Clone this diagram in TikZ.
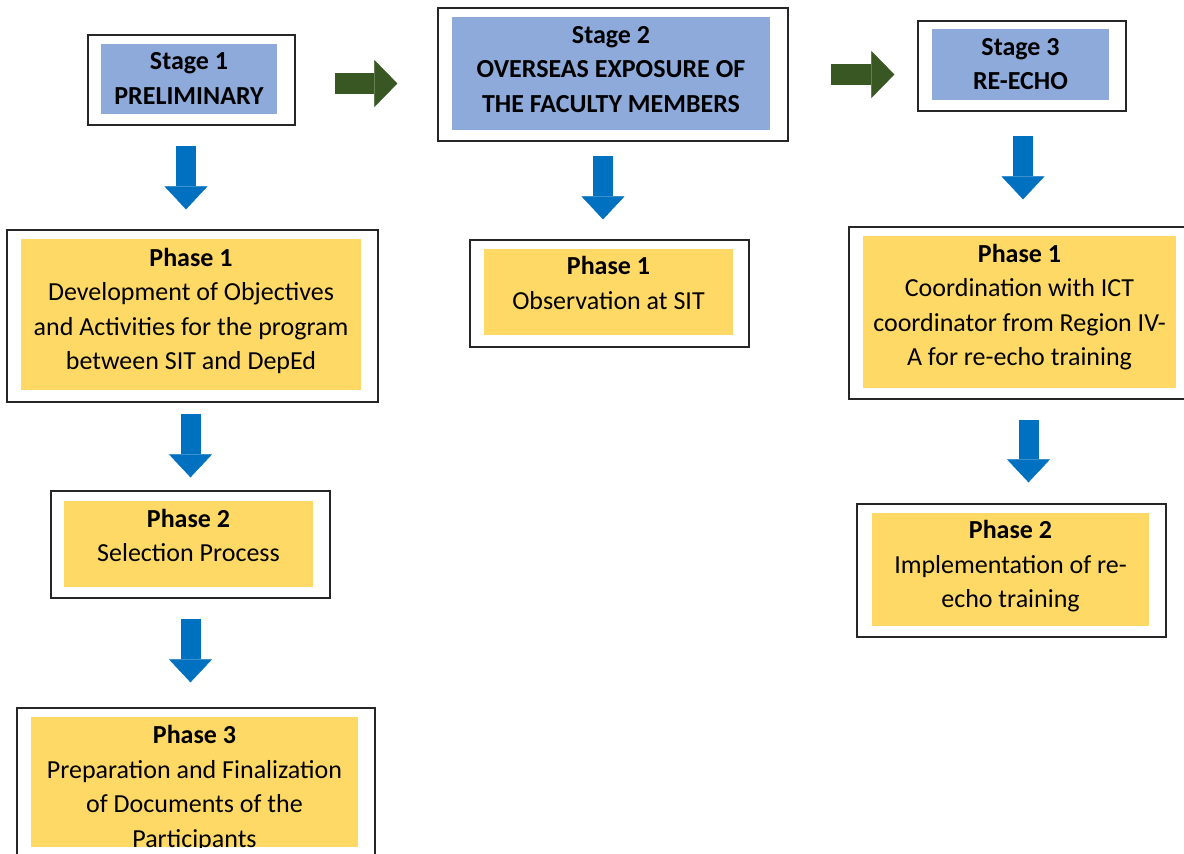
\documentclass[tikz,border=0pt]{standalone}
\usepackage{fontspec}
\setmainfont{Carlito}
\usetikzlibrary{arrows.meta}
\definecolor{stageblue}{HTML}{8EAADB}
\definecolor{phaseyel}{HTML}{FFD966}
\definecolor{arrblue}{HTML}{0070C0}
\definecolor{arrgreen}{HTML}{385723}
\begin{document}
\begin{tikzpicture}[x=1pt,y=-1pt,
  outerbox/.style={draw=black!85, line width=1.3pt, fill=white, inner sep=0pt},
  stagefill/.style={fill=stageblue, inner sep=0pt},
  phasefill/.style={fill=phaseyel, inner sep=0pt},
  txt/.style={align=center, inner sep=0pt, font=\fontsize{26}{34.4}\selectfont},
  txtb/.style={align=center, inner sep=0pt, font=\fontsize{26}{34.4}\selectfont\bfseries},
  blockdn/.style={arrblue, line width=20pt, -{Triangle[width=43pt,length=23pt,line width=0.4pt]}},
  blockrt/.style={arrgreen, line width=21pt, -{Triangle[width=47pt,length=23pt,line width=0.4pt]}},
]
\useasboundingbox (0,0) rectangle (1184,854);
\clip (0,0) rectangle (1184,854);

% Stage 1
\node[outerbox, minimum width=207pt, minimum height=90pt] (s1o) at (191.5,80) {};
\node[stagefill, minimum width=176pt, minimum height=70pt] (s1i) at (189,79) {};
\node[txtb] (s1t) at (189,78.5) {Stage 1\\PRELIMINARY};

% Stage 2
\node[outerbox, minimum width=350pt, minimum height=133pt] (s2o) at (613,74.5) {};
\node[stagefill, minimum width=318pt, minimum height=113pt] (s2i) at (611,73.5) {};
\node[txtb] (s2t) at (611,69.5) {Stage 2\\OVERSEAS EXPOSURE OF\\THE FACULTY MEMBERS};

% Stage 3
\node[outerbox, minimum width=208pt, minimum height=90pt] (s3o) at (1022,66) {};
\node[stagefill, minimum width=177pt, minimum height=71pt] (s3i) at (1020.5,64.5) {};
\node[txtb] (s3t) at (1020.5,64) {Stage 3\\RE-ECHO};

% Left phases
\node[outerbox, minimum width=371pt, minimum height=172pt] (Lp1o) at (192.5,316) {};
\node[phasefill, minimum width=340pt, minimum height=151pt] (Lp1i) at (191,314.5) {};
\node[txt] (Lp1t) at (191,311) {{\bfseries Phase 1}\\Development of Objectives\\and Activities for the program\\between SIT and DepEd};

\node[outerbox, minimum width=279pt, minimum height=107pt] (Lp2o) at (190.5,544.5) {};
\node[phasefill, minimum width=249pt, minimum height=86pt] (Lp2i) at (188.5,544) {};
\node[txt] (Lp2t) at (188.5,535.5) {{\bfseries Phase 2}\\Selection Process};

\node[outerbox, minimum width=358pt, minimum height=172pt] (Lp3o) at (196,794) {};
\node[phasefill, minimum width=327pt, minimum height=130pt] (Lp3i) at (194.5,782) {};
\begin{scope}
  \clip (Lp3i.south west) rectangle (Lp3i.north east);
  \node[txt] (Lp3t) at (194.5,788.5) {{\bfseries Phase 3}\\Preparation and Finalization\\of Documents of the\\Participants};
\end{scope}

% Middle phase
\node[outerbox, minimum width=279pt, minimum height=107pt] (Mp1o) at (609.5,293.5) {};
\node[phasefill, minimum width=249pt, minimum height=86pt] (Mp1i) at (608.5,292) {};
\node[txt] (Mp1t) at (608.5,283) {{\bfseries Phase 1}\\Observation at SIT};

% Right phases
\node[outerbox, minimum width=351pt, minimum height=172pt] (Rp1o) at (1024.5,313) {};
\node[phasefill, minimum width=313pt, minimum height=152pt] (Rp1i) at (1019.5,312) {};
\node[txt] (Rp1t) at (1019.5,307) {{\bfseries Phase 1}\\Coordination with ICT\\coordinator from Region IV-\\A for re-echo training};

\node[outerbox, minimum width=309pt, minimum height=133pt] (Rp2o) at (1011.5,570.5) {};
\node[phasefill, minimum width=277pt, minimum height=113pt] (Rp2i) at (1010.5,569.5) {};
\node[txt] (Rp2t) at (1010.5,566.5) {{\bfseries Phase 2}\\Implementation of re-\\echo training};

% Blue down arrows
\coordinate (a1) at ([xshift=-5.5pt]s1o.south);
\draw[blockdn, shorten <=20pt, shorten >=20pt] (a1) -- (a1 |- Lp1o.north);
\coordinate (a2) at ([xshift=-10pt]s2o.south);
\draw[blockdn, shorten <=14pt, shorten >=20pt] (a2) -- (a2 |- Mp1o.north);
\coordinate (a3) at ([xshift=1pt]s3o.south);
\draw[blockdn, shorten <=24pt, shorten >=27pt] (a3) -- (a3 |- Rp1o.north);
\coordinate (a4) at ([xshift=-2pt]Lp1o.south);
\draw[blockdn, shorten <=11pt, shorten >=13pt] (a4) -- (a4 |- Lp2o.north);
\coordinate (a5) at (Lp2o.south);
\draw[blockdn, shorten <=20pt, shorten >=25pt] (a5) -- (a5 |- Lp3o.north);
\coordinate (a6) at ([xshift=4pt]Rp1o.south);
\draw[blockdn, shorten <=20pt, shorten >=21pt] (a6) -- (a6 |- Rp2o.north);

% Green right arrows
\coordinate (g1) at ([yshift=-3.5pt]s1o.east);
\draw[blockrt, shorten <=39pt, shorten >=40pt] (g1) -- (g1 -| s2o.west);
\coordinate (g2) at (s2o.east);
\draw[blockrt, shorten <=42pt, shorten >=23pt] (g2) -- (g2 -| s3o.west);
\end{tikzpicture}
\end{document}
